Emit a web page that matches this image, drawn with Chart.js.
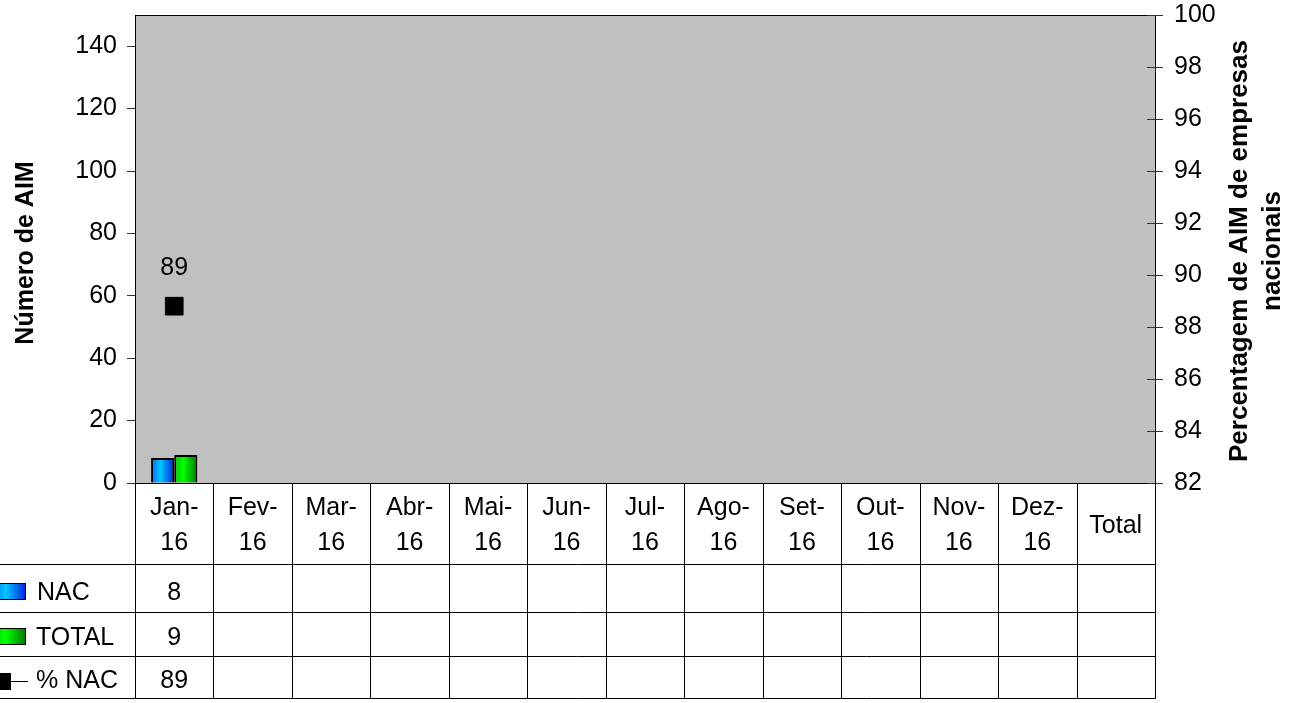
<!DOCTYPE html>
<html>
<head>
<meta charset="utf-8">
<script src="https://cdn.jsdelivr.net/npm/chart.js@4.4.1/dist/chart.umd.min.js"></script>
<style>
  html, body { margin: 0; padding: 0; background: #fff; }
  #wrap { width: 1303px; height: 703px; }
</style>
</head>
<body>
<div id="wrap"><canvas id="chart" width="1303" height="703"></canvas></div>
<script>
// --- datos del gráfico ---
const categories = ['Jan-16', 'Fev-16', 'Mar-16', 'Abr-16', 'Mai-16', 'Jun-16', 'Jul-16', 'Ago-16', 'Set-16', 'Out-16', 'Nov-16', 'Dez-16', 'Total'];
const nacValues = [8, null, null, null, null, null, null, null, null, null, null, null, null];
const totalValues = [9, null, null, null, null, null, null, null, null, null, null, null, null];
const pctNacValues = [88.8, null, null, null, null, null, null, null, null, null, null, null, null];
const leftTicks = [0, 20, 40, 60, 80, 100, 120, 140];
const rightTicks = [82, 84, 86, 88, 90, 92, 94, 96, 98, 100];

const FONT = "'Liberation Sans', Arial, sans-serif";
const FONT_SIZE = 25;
const CAT_PCT = 0.59;

const NAC_STOPS = [[0, '#0a5cff'], [0.4, '#00c8ff'], [1, '#0022dd']];
const TOTAL_STOPS = [[0, '#00cc00'], [0.4, '#00ff00'], [1, '#007700']];

// gradiente horizontal por barra (como no Excel)
function barGradient(c, stops) {
    const chart = c.chart;
    const xs = chart.scales.x;
    if (c.type !== 'data' || !xs || !chart.chartArea) return stops[1][1];
    const colW = (xs.right - xs.left) / categories.length;
    const barW = colW * CAT_PCT / 2;
    const x0 = xs.getPixelForValue(c.dataIndex) - barW + c.datasetIndex * barW;
    const g = chart.ctx.createLinearGradient(x0, 0, x0 + barW, 0);
    stops.forEach(s => g.addColorStop(s[0], s[1]));
    return g;
}

function boxGradient(ctx, x0, w, stops) {
    const g = ctx.createLinearGradient(x0, 0, x0 + w, 0);
    stops.forEach(s => g.addColorStop(s[0], s[1]));
    return g;
}

// fundo cinzento da área do gráfico
const plotBackground = {
    id: 'plotBackground',
    beforeDraw(chart) {
        const { ctx, chartArea: a } = chart;
        ctx.save();
        ctx.fillStyle = '#fff';
        ctx.fillRect(0, 0, chart.width, chart.height);
        ctx.fillStyle = '#c0c0c0';
        ctx.fillRect(a.left, a.top, a.right - a.left, a.bottom - a.top);
        ctx.strokeStyle = '#000';
        ctx.lineWidth = 1;
        ctx.strokeRect(Math.round(a.left) + 0.5, Math.round(a.top) + 0.5, Math.round(a.right - a.left), Math.round(a.bottom - a.top));
        // parte interior das marcas do eixo direito
        const y1 = chart.scales.y1;
        ctx.strokeStyle = '#333';
        ctx.beginPath();
        rightTicks.forEach(v => {
            const y = Math.round(y1.getPixelForValue(v)) + 0.5;
            ctx.moveTo(a.right - 8, y);
            ctx.lineTo(a.right, y);
        });
        ctx.stroke();
        ctx.restore();
    }
};

// títulos dos eixos, rótulo do ponto e tabela de dados
const tableAndLabels = {
    id: 'tableAndLabels',
    afterDraw(chart) {
        const { ctx, chartArea: a } = chart;
        const n = categories.length;
        const colW = (a.right - a.left) / n;
        const rows = [a.bottom, 564, 612, 656, 698];

        ctx.save();
        ctx.fillStyle = '#000';
        ctx.strokeStyle = '#000';
        ctx.lineWidth = 1;

        // títulos
        ctx.font = 'bold ' + FONT_SIZE + 'px ' + FONT;
        ctx.textAlign = 'center';
        ctx.textBaseline = 'alphabetic';
        ctx.save();
        ctx.translate(33, 253);
        ctx.rotate(-Math.PI / 2);
        ctx.fillText('Número de AIM', 0, 0);
        ctx.restore();
        ctx.font = 'bold 26px ' + FONT;
        ctx.save();
        ctx.translate(1247, 251);
        ctx.rotate(-Math.PI / 2);
        ctx.fillText('Percentagem de AIM de empresas', 0, 0);
        ctx.restore();
        ctx.save();
        ctx.translate(1280, 251);
        ctx.rotate(-Math.PI / 2);
        ctx.fillText('nacionais', 0, 0);
        ctx.restore();

        // rótulo do ponto % NAC
        ctx.font = FONT_SIZE + 'px ' + FONT;
        const lineMeta = chart.getDatasetMeta(2);
        lineMeta.data.forEach((pt, i) => {
            if (pctNacValues[i] == null) return;
            ctx.fillText(String(Math.round(pctNacValues[i])), pt.x, pt.y - 31);
        });

        // grelha da tabela
        ctx.beginPath();
        for (let k = 1; k < rows.length; k++) {
            const y = Math.round(rows[k]) + 0.5;
            ctx.moveTo(0, y);
            ctx.lineTo(a.right + 0.5, y);
        }
        for (let i = 0; i <= n; i++) {
            const x = Math.round(a.left + i * colW) + 0.5;
            ctx.moveTo(x, a.bottom);
            ctx.lineTo(x, rows[4] + 0.5);
        }
        ctx.stroke();

        // cabeçalho (categorias)
        const xs = chart.scales.x;
        categories.forEach((label, i) => {
            const cx = xs.getPixelForValue(i);
            const dash = label.indexOf('-');
            if (dash >= 0) {
                ctx.fillText(label.slice(0, dash + 1), cx, 515);
                ctx.fillText(label.slice(dash + 1), cx, 550);
            } else {
                ctx.fillText(label, cx, 533);
            }
        });

        // valores
        const series = [nacValues, totalValues, pctNacValues];
        const baselines = [600, 645, 688];
        series.forEach((vals, r) => {
            vals.forEach((v, i) => {
                if (v == null) return;
                ctx.fillText(String(Math.round(v)), xs.getPixelForValue(i), baselines[r]);
            });
        });

        // legenda na primeira coluna
        ctx.textAlign = 'left';
        ctx.fillText('NAC', 37, 600);
        ctx.fillText('TOTAL', 36, 645);
        ctx.fillText('% NAC', 36, 688);

        ctx.fillStyle = boxGradient(ctx, -8, 34, NAC_STOPS);
        ctx.fillRect(0, 583, 26, 16);
        ctx.strokeRect(-0.5, 583.5, 26, 16);
        ctx.fillStyle = boxGradient(ctx, -8, 34, TOTAL_STOPS);
        ctx.fillRect(0, 628, 26, 16);
        ctx.strokeRect(-0.5, 628.5, 26, 16);

        ctx.fillStyle = '#000';
        ctx.fillRect(0, 673, 11, 17);
        ctx.beginPath();
        ctx.moveTo(10, 681.5);
        ctx.lineTo(28, 681.5);
        ctx.stroke();

        ctx.restore();
    }
};

const ctx = document.getElementById('chart');

new Chart(ctx, {
    type: 'bar',
    data: {
        labels: categories,
        datasets: [
            {
                label: 'NAC',
                data: nacValues,
                yAxisID: 'y',
                backgroundColor: c => barGradient(c, NAC_STOPS),
                borderColor: '#000',
                borderWidth: 2,
                categoryPercentage: CAT_PCT,
                barPercentage: 1
            },
            {
                label: 'TOTAL',
                data: totalValues,
                yAxisID: 'y',
                backgroundColor: c => barGradient(c, TOTAL_STOPS),
                borderColor: '#000',
                borderWidth: 2,
                categoryPercentage: CAT_PCT,
                barPercentage: 1
            },
            {
                type: 'line',
                label: '% NAC',
                data: pctNacValues,
                yAxisID: 'y1',
                borderColor: '#000',
                backgroundColor: '#000',
                borderWidth: 1.5,
                pointStyle: 'rect',
                pointRadius: 12.5,
                pointBorderWidth: 1,
                showLine: true
            }
        ]
    },
    options: {
        responsive: false,
        animation: false,
        layout: { padding: { top: 15, left: 0, right: 0, bottom: 0 } },
        plugins: {
            legend: { display: false },
            tooltip: { enabled: false }
        },
        scales: {
            x: {
                offset: true,
                grid: { display: false },
                border: { display: false },
                ticks: { display: false },
                afterFit: s => { s.height = 220; }
            },
            y: {
                position: 'left',
                min: 0,
                max: 150,
                afterBuildTicks: s => { s.ticks = leftTicks.map(v => ({ value: v })); },
                afterFit: s => { s.width = 135; s.paddingTop = 0; s.paddingBottom = 0; },
                grid: { drawOnChartArea: false, tickLength: 8, color: '#333' },
                border: { display: false },
                ticks: { padding: 10, color: '#000', font: { family: FONT, size: FONT_SIZE } }
            },
            y1: {
                position: 'right',
                min: 82,
                max: 100,
                afterBuildTicks: s => { s.ticks = rightTicks.map(v => ({ value: v })); },
                afterFit: s => { s.width = 148; s.paddingTop = 0; s.paddingBottom = 0; },
                grid: { drawOnChartArea: false, tickLength: 8, color: '#333' },
                border: { display: false },
                ticks: { padding: 11, color: '#000', font: { family: FONT, size: FONT_SIZE } }
            }
        }
    },
    plugins: [plotBackground, tableAndLabels]
});
</script>
</body>
</html>
